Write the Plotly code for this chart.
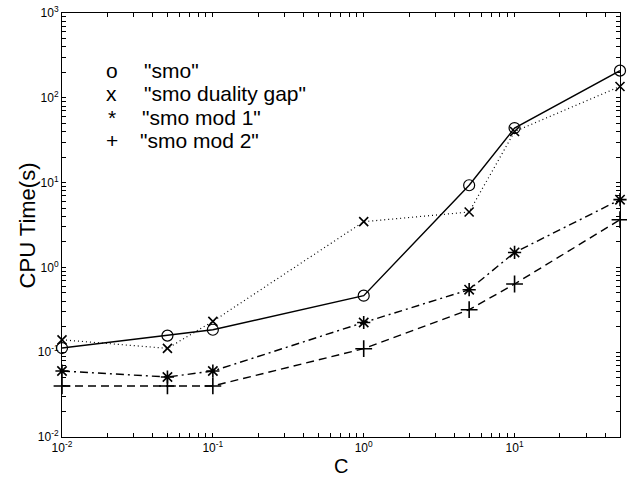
import plotly.graph_objects as go
import numpy as np

C = [0.01, 0.05, 0.1, 1, 5, 10, 50]
smo = [0.112, 0.157, 0.184, 0.464, 9.3, 44, 209]
smo_gap = [0.140, 0.111, 0.231, 3.46, 4.5, 40, 136]
smo_mod1 = [0.060, 0.051, 0.060, 0.224, 0.546, 1.50, 6.29]
smo_mod2 = [0.040, 0.040, 0.040, 0.110, 0.317, 0.637, 3.65]

legend_symbols = ["o", "x", "*", "+"]
legend_names = ['"smo"', '"smo duality gap"', '"smo mod 1"', '"smo mod 2"']
x_title = "C"
y_title = "CPU Time(s)"

FONT = "Liberation Sans, Arial"
fig = go.Figure()
fig.add_trace(go.Scatter(x=C, y=smo, mode="lines+markers", cliponaxis=False,
                         line=dict(color="black", width=1.4),
                         marker=dict(symbol="circle-open", size=11, color="black", line=dict(width=1.2))))
fig.add_trace(go.Scatter(x=C, y=smo_gap, mode="lines+markers", cliponaxis=False,
                         line=dict(color="black", width=1.2, dash="1px,3px"),
                         marker=dict(symbol="x-thin-open", size=9, color="black", line=dict(width=1.6))))
fig.add_trace(go.Scatter(x=C, y=smo_mod1, mode="lines+markers", cliponaxis=False,
                         line=dict(color="black", width=1.4, dash="8px,4px,2px,4px"),
                         marker=dict(symbol="asterisk-open", size=11, color="black", line=dict(width=1.6))))
fig.add_trace(go.Scatter(x=C, y=smo_mod2, mode="lines+markers", cliponaxis=False,
                         line=dict(color="black", width=1.4, dash="8px,5px"),
                         marker=dict(symbol="cross-thin-open", size=12, color="black", line=dict(width=1.6))))

def log_ticks(lo, hi):
    vals, txt = [], []
    for e in range(lo, hi + 1):
        for m in range(1, 10):
            v = m * 10.0 ** e
            vals.append(v)
            txt.append("10<sup>%d</sup>" % e if m == 1 else "")
    return vals, txt

yv, yt = log_ticks(-2, 3)
yv, yt = yv[:-8], yt[:-8]
xv, xt = log_ticks(-2, 1)
xv += [20, 30, 40, 50]
xt += ["", "", "", ""]

axis_common = dict(showgrid=False, zeroline=False, showline=True, linecolor="black",
                   linewidth=1, mirror="allticks", ticks="inside", ticklen=4,
                   tickcolor="black", tickwidth=1, automargin=False,
                   tickfont=dict(family=FONT, size=12, color="black"))

fig.update_xaxes(type="log", range=[-2, np.log10(50)], tickvals=xv, ticktext=xt, **axis_common)
fig.update_yaxes(type="log", range=[-2, 3], tickvals=yv, ticktext=yt, **axis_common)

fig.add_annotation(xref="paper", yref="paper", x=0.5, y=-0.068, text=x_title, showarrow=False,
                   xanchor="center", yanchor="middle", font=dict(family=FONT, size=20, color="black"))
fig.add_annotation(xref="paper", yref="paper", x=-0.062, y=0.5, text=y_title, showarrow=False,
                   textangle=-90, xanchor="center", yanchor="middle",
                   font=dict(family=FONT, size=22, color="black"))

rows_y = [0.864, 0.809, 0.754, 0.699]
text_x = [0.144, 0.144, 0.139, 0.136]
for s, n, yy, tx in zip(legend_symbols, legend_names, rows_y, text_x):
    fig.add_annotation(xref="paper", yref="paper", x=0.089, y=yy, text=s, showarrow=False,
                       xanchor="center", yanchor="middle",
                       font=dict(family=FONT, size=21, color="black"))
    fig.add_annotation(xref="paper", yref="paper", x=tx, y=yy, text=n, showarrow=False,
                       xanchor="left", yanchor="middle",
                       font=dict(family=FONT, size=21, color="black"))

fig.update_layout(width=627, height=478, margin=dict(l=62, r=7, t=13, b=41),
                  paper_bgcolor="white", plot_bgcolor="white", showlegend=False)
fig.write_html("out.html", config={"displayModeBar": False},
               post_script="document.body.style.margin='0px';document.body.style.overflow='hidden';")
